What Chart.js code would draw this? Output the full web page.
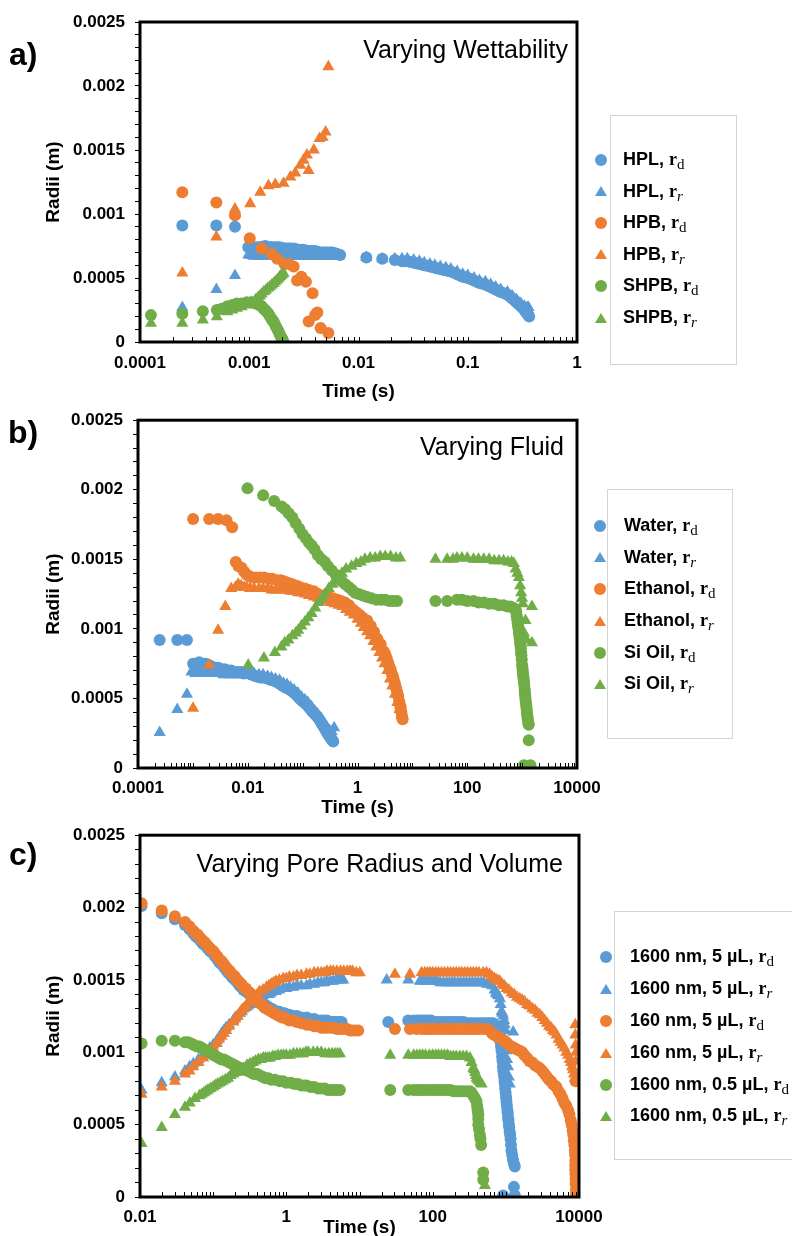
<!DOCTYPE html>
<html>
<head>
<meta charset="utf-8">
<title>Radii vs time</title>
<script src="https://cdn.jsdelivr.net/npm/chart.js@4.4.1/dist/chart.umd.min.js"></script>
<style>
  html, body { margin: 0; padding: 0; background: #fff; }
  body { position: relative; width: 792px; height: 1236px; overflow: hidden; font-family: 'Liberation Sans', Arial, sans-serif; color: #000; }
  canvas { position: absolute; left: 0; }
  .tag { position: absolute; font-size: 32px; font-weight: bold; line-height: 1; }
  .ttl { position: absolute; font-size: 25px; line-height: 1; white-space: nowrap; }
  .box { position: absolute; border: 1px solid #d4d4d4; box-sizing: border-box; }
  .item { position: absolute; font-size: 18px; font-weight: bold; line-height: 22px; white-space: nowrap; }
  .rr { font-family: 'Liberation Serif', 'Times New Roman', serif; font-weight: bold; }
  .rr sub { font-size: 15px; font-weight: normal; vertical-align: -4px; line-height: 0; }
  .dot { position: absolute; width: 12px; height: 12px; border-radius: 50%; }
  .tri { position: absolute; width: 0; height: 0; border-left: 6px solid transparent; border-right: 6px solid transparent; }
</style>
</head>
<body>
<canvas id="chartA" width="640" height="410" style="top:0px"></canvas>
<canvas id="chartB" width="640" height="420" style="top:400px"></canvas>
<canvas id="chartC" width="640" height="430" style="top:815px"></canvas>

<div class="tag" style="left:9px;top:38px">a)</div>
<div class="tag" style="left:8px;top:416px">b)</div>
<div class="tag" style="left:9px;top:838px">c)</div>

<div class="ttl" style="right:224px;top:37px">Varying Wettability</div>
<div class="ttl" style="right:228px;top:434px">Varying Fluid</div>
<div class="ttl" style="right:229px;top:851px">Varying Pore Radius and Volume</div>

<div id="legends"></div>

<script>
const BLUE = '#5B9BD5';
const ORANGE = '#ED7D31';
const GREEN = '#70AD47';
const FONT = "'Liberation Sans', Arial, sans-serif";

// y axis (same on all three panels)
const Y_STEP = 0.0001;
const yLabels = ['0', '0.0005', '0.001', '0.0015', '0.002', '0.0025'];

// x tick labels
const xLabelsA = ['0.0001', '0.001', '0.01', '0.1', '1'];
const xLabelsB = ['0.0001', '0.01', '1', '100', '10000'];
const xLabelsC = ['0.01', '1', '100', '10000'];

// ---------- a) Varying Wettability : [time (s), radius (m)] ----------
const hplRd = [
  [2.44e-4,0.00091],[5.0e-4,0.00091],[7.4e-4,0.0009],
  [0.00098,0.00074],[0.00104,0.00074],[0.0011,0.00074],[0.00117,0.00074],[0.00125,0.00074],[0.00132,0.000745],
  [0.0014,0.00075],[0.00147,0.000745],[0.00155,0.00074],[0.00162,0.00074],[0.0017,0.00074],[0.0018,0.00074],
  [0.0019,0.00074],[0.002,0.000735],[0.0021,0.00073],[0.0022,0.00073],[0.0023,0.00073],[0.0024,0.00073],
  [0.00255,0.00073],[0.0027,0.000725],[0.0028,0.00072],[0.003,0.00072],[0.0031,0.00072],[0.0033,0.000715],
  [0.0034,0.00071],[0.0036,0.00071],[0.0037,0.00071],[0.0039,0.00071],[0.004,0.00071],[0.0042,0.000705],
  [0.0044,0.0007],[0.0046,0.0007],[0.0048,0.0007],[0.005,0.0007],[0.0052,0.0007],[0.0055,0.0007],[0.0057,0.0007],
  [0.006,0.000695],[0.0062,0.00069],[0.0065,0.000685],[0.0068,0.00068],
  [0.0118,0.00066],[0.0165,0.00065],[0.0215,0.00064],
  [0.025,0.00063],[0.0265,0.00063],[0.028,0.00063],[0.03,0.000625],[0.032,0.00062],[0.034,0.000615],[0.036,0.00061],
  [0.038,0.000605],[0.04,0.0006],[0.0425,0.000595],[0.045,0.00059],[0.0475,0.000585],[0.05,0.00058],[0.053,0.000575],
  [0.056,0.00057],[0.0595,0.000565],[0.063,0.00056],[0.0665,0.000555],[0.07,0.00055],[0.075,0.00054],[0.08,0.00053],
  [0.085,0.00052],[0.09,0.00051],[0.095,0.000505],[0.1,0.0005],[0.107,0.00049],[0.114,0.00048],[0.121,0.00047],
  [0.128,0.00046],[0.136,0.000455],[0.145,0.00045],[0.153,0.00044],[0.162,0.00043],[0.171,0.00042],[0.18,0.00041],
  [0.19,0.0004],[0.2,0.00039],[0.215,0.00038],[0.231,0.00037],[0.243,0.000355],[0.255,0.00034],[0.268,0.000325],
  [0.28,0.00031],[0.293,0.000295],[0.306,0.00028],[0.318,0.000265],[0.33,0.00025],[0.34,0.000235],[0.35,0.00022],
  [0.358,0.00021],[0.365,0.0002]
];
const hplRr = [
  [2.44e-4,0.00027],[5.0e-4,0.00041],[7.4e-4,0.00052],
  [0.00098,0.00068],[0.00104,0.000675],[0.0011,0.00067],[0.00118,0.00067],[0.00125,0.00067],[0.00133,0.00067],
  [0.0014,0.00067],[0.0015,0.00067],[0.0016,0.00067],[0.0017,0.00067],[0.0018,0.00067],[0.0019,0.00067],
  [0.002,0.00067],[0.00215,0.00067],[0.0023,0.00067],[0.00245,0.00067],[0.0026,0.00067],[0.0028,0.00067],
  [0.003,0.00067],[0.0032,0.00067],[0.0034,0.00067],[0.0036,0.00067],[0.0038,0.00067],[0.004,0.00067],
  [0.0043,0.00067],[0.0045,0.00067],[0.0048,0.00067],[0.0051,0.00067],[0.0054,0.00067],[0.0057,0.00067],
  [0.006,0.00067],[0.0063,0.00067],[0.0066,0.00067],
  [0.0118,0.00066],[0.0165,0.00065],[0.0215,0.00065],
  [0.025,0.00065],[0.028,0.00065],[0.032,0.00064],[0.036,0.00063],[0.04,0.00062],[0.045,0.00061],[0.05,0.0006],
  [0.056,0.00059],[0.063,0.00058],[0.07,0.00057],[0.08,0.00055],[0.09,0.00053],[0.1,0.00052],[0.114,0.0005],
  [0.128,0.00048],[0.145,0.00047],[0.162,0.00045],[0.18,0.00043],[0.2,0.00041],[0.231,0.00039],[0.255,0.00036],
  [0.28,0.00033],[0.306,0.0003],[0.33,0.00028],[0.35,0.00027],[0.36,0.00027]
];
const hpbRd = [
  [2.44e-4,0.00117],[5.0e-4,0.00109],[7.4e-4,0.00099],[0.00101,0.00081],[0.0013,0.00073],[0.0016,0.00069],
  [0.0018,0.00065],[0.0021,0.00061],[0.0023,0.00061],[0.00255,0.00059],[0.00274,0.00048],[0.003,0.00051],
  [0.0033,0.00047],[0.0038,0.00038],[0.0035,0.00016],[0.004,0.00021],[0.0042,0.00023],[0.0045,0.00011],
  [0.0053,0.00007]
];
const hpbRr = [
  [2.44e-4,0.00054],[5.0e-4,0.00082],[7.4e-4,0.001],[7.4e-4,0.00104],[0.00102,0.00108],[0.00126,0.00117],
  [0.0015,0.00122],[0.00173,0.00123],[0.00206,0.00124],[0.00238,0.00129],[0.00264,0.00132],[0.00293,0.00138],
  [0.00314,0.00142],[0.00349,0.00134],[0.00337,0.00146],[0.0039,0.0015],[0.0044,0.00159],[0.0047,0.0016],
  [0.005,0.00164],[0.0053,0.00215]
];
const shpbRd = [
  [1.26e-4,0.00021],[2.44e-4,0.00022],[3.76e-4,0.00024],[5.05e-4,0.00025],[5.6e-4,0.00026],[6.3e-4,0.00028],
  [7.0e-4,0.00029],[7.7e-4,0.0003],[8.5e-4,0.0003],[9.5e-4,0.00031],[0.00105,0.00031],[0.00114,0.0003],
  [0.00122,0.00029],[0.00126,0.000285],[0.0013,0.00028],[0.00135,0.00026],[0.0014,0.00025],[0.00145,0.000235],
  [0.0015,0.00022],[0.00155,0.0002],[0.0016,0.00018],[0.00163,0.00017],[0.00167,0.00016],[0.00171,0.00014],
  [0.00176,0.00012],[0.00181,0.0001],[0.00186,0.00008],[0.0019,0.00006],[0.00195,0.00004],[0.00199,0.00003],
  [0.00204,0.00001]
];
const shpbRr = [
  [1.26e-4,0.000146],[2.44e-4,0.000146],[3.76e-4,0.000172],[5.05e-4,0.000198],[6.3e-4,0.000237],[7.0e-4,0.00025],
  [7.7e-4,0.000263],[8.5e-4,0.000275],[9.5e-4,0.000289],[0.00105,0.00031],[0.00114,0.000328],[0.0012,0.000345],
  [0.00125,0.00036],[0.0013,0.000375],[0.00136,0.000393],[0.00142,0.000405],[0.00148,0.00042],[0.00155,0.000432],
  [0.00161,0.000445],[0.00167,0.000458],[0.00173,0.00047],[0.0018,0.000485],[0.00186,0.000498],[0.00191,0.00051],
  [0.00196,0.00052],[0.00201,0.00053],[0.00206,0.000537]
];

// ---------- b) Varying Fluid ----------
const waterRd = [
  [2.48e-4,0.00092],[5.2e-4,0.00092],[7.8e-4,0.00092],
  [0.00101,0.00075],[0.00115,0.00075],[0.0013,0.00076],[0.0015,0.00075],[0.0017,0.00075],[0.00195,0.00074],
  [0.0022,0.00073],[0.0025,0.00072],[0.0029,0.00072],[0.0033,0.00071],[0.0038,0.00071],[0.0044,0.0007],
  [0.005,0.0007],[0.0058,0.00069],[0.0066,0.00069],[0.0076,0.00069],[0.0085,0.00068],
  [0.0105,0.00068],[0.0113,0.000675],[0.012,0.00067],[0.013,0.000665],[0.014,0.00066],[0.0155,0.000655],
  [0.017,0.00065],[0.0185,0.00065],[0.02,0.00065],[0.022,0.000645],[0.024,0.00064],[0.026,0.000635],[0.028,0.00063],
  [0.031,0.000625],[0.034,0.00062],[0.037,0.00061],[0.04,0.0006],[0.044,0.00059],[0.048,0.00058],[0.051,0.000575],
  [0.055,0.00057],[0.06,0.00056],[0.065,0.00055],[0.07,0.00054],[0.075,0.00053],[0.081,0.000515],[0.088,0.0005],
  [0.094,0.00049],[0.1,0.00048],[0.107,0.00047],[0.115,0.00046],[0.125,0.000445],[0.135,0.00043],[0.145,0.000415],
  [0.155,0.0004],[0.165,0.00039],[0.175,0.00038],[0.184,0.00037],[0.193,0.00036],[0.204,0.000345],[0.215,0.00033],
  [0.227,0.000315],[0.24,0.0003],[0.252,0.000285],[0.265,0.00027],[0.279,0.000255],[0.293,0.00024],[0.306,0.00023],
  [0.32,0.00022],[0.332,0.00021],[0.345,0.0002],[0.361,0.00019]
];
const waterRr = [
  [2.48e-4,0.000255],[5.2e-4,0.00042],[7.8e-4,0.00053],
  [0.00094,0.00069],[0.0011,0.00068],[0.0013,0.00068],[0.0015,0.00068],[0.0018,0.00068],[0.0021,0.00068],
  [0.0025,0.00068],[0.003,0.00068],[0.0036,0.00067],[0.0043,0.00067],[0.005,0.00067],[0.006,0.00067],
  [0.007,0.00067],[0.0082,0.00067],
  [0.0105,0.00069],[0.013,0.00068],[0.016,0.00067],[0.019,0.00067],[0.023,0.00066],[0.027,0.00065],
  [0.032,0.00064],[0.038,0.00063],[0.045,0.00061],[0.052,0.0006],[0.06,0.00058],[0.07,0.00056],[0.082,0.00054],
  [0.095,0.00051],[0.11,0.00049],[0.125,0.00047],[0.145,0.00044],[0.165,0.00041],[0.185,0.00039],[0.205,0.00036],
  [0.23,0.00034],[0.255,0.00031],[0.28,0.00029],[0.31,0.00027],[0.34,0.00026],[0.375,0.00029]
];
const ethanolRd = [
  [0.00101,0.00179],[0.00198,0.00179],[0.00288,0.00179],[0.0041,0.00178],[0.0052,0.00173],
  [0.00605,0.00148],[0.0068,0.00145],[0.0077,0.00144],[0.0086,0.00141],[0.0095,0.00139],[0.0105,0.00138],
  [0.012,0.00137],[0.014,0.00137],[0.017,0.00137],[0.02,0.00137],[0.024,0.00136],[0.028,0.00136],[0.034,0.00135],
  [0.04,0.00135],[0.047,0.00134],[0.055,0.00133],[0.065,0.00132],[0.078,0.00131],[0.09,0.0013],[0.11,0.00129],
  [0.13,0.00128],[0.16,0.00127],[0.19,0.00125],[0.22,0.00124],[0.26,0.00124],[0.3,0.00123],[0.36,0.00122],
  [0.43,0.00121],[0.5,0.0012],[0.59,0.00119],[0.7,0.00117],[0.82,0.00114],[0.95,0.00112],[1.1,0.0011],
  [1.25,0.00108],[1.5,0.00106],[1.75,0.00102],[2.0,0.00098],[2.3,0.00093],[2.65,0.00089],[3.0,0.00084],
  [3.2,0.00082],[3.4,0.00079],[3.6,0.00076],[3.8,0.00073],[4.0,0.00071],[4.2,0.00068],[4.4,0.00066],
  [4.55,0.00064],[4.8,0.00061],[5.0,0.00058],[5.25,0.00055],[5.5,0.00052],[5.75,0.00048],[6.0,0.00045],
  [6.15,0.00043],[6.3,0.0004],[6.5,0.00037],[6.65,0.00035]
];
const ethanolRr = [
  [0.00101,0.00043],[0.00198,0.00074],[0.00288,0.00099],[0.0039,0.00116],[0.005,0.00129],[0.006,0.0013],
  [0.0067,0.00132],[0.0076,0.00131],[0.0086,0.0013],[0.0095,0.0013],[0.011,0.00129],[0.013,0.00129],
  [0.016,0.00129],[0.019,0.00129],[0.023,0.00129],[0.027,0.00128],[0.032,0.00128],[0.038,0.00128],
  [0.045,0.00128],[0.052,0.00128],[0.06,0.00127],[0.07,0.00127],[0.082,0.00126],[0.095,0.00126],[0.11,0.00125],
  [0.13,0.00124],[0.16,0.00123],[0.19,0.00122],[0.23,0.00121],[0.27,0.0012],[0.32,0.00119],[0.38,0.00118],
  [0.45,0.00117],[0.53,0.00116],[0.62,0.00114],[0.72,0.00112],[0.85,0.0011],[1.0,0.00107],[1.15,0.00104],
  [1.3,0.00101],[1.5,0.00098],[1.7,0.00095],[1.95,0.00091],[2.2,0.00087],[2.5,0.00083],[2.8,0.00079],
  [3.1,0.00075],[3.5,0.0007],[3.9,0.00064],[4.3,0.00059],[4.8,0.00053],[5.3,0.00047],[5.8,0.00042],[6.3,0.00038]
];
const siOilRd = [
  [0.0099,0.00201],[0.0191,0.00196],[0.0303,0.00192],[0.0413,0.00188],[0.048,0.00186],[0.056,0.00183],
  [0.065,0.0018],[0.075,0.00176],[0.087,0.00172],[0.1,0.00168],[0.115,0.00165],[0.13,0.00162],[0.146,0.0016],
  [0.165,0.00157],[0.19,0.00153],[0.22,0.0015],[0.255,0.00148],[0.29,0.00145],[0.34,0.00142],[0.4,0.00139],
  [0.45,0.00137],[0.52,0.00134],[0.6,0.00132],[0.7,0.0013],[0.8,0.00128],[0.9,0.00126],[1.05,0.00125],
  [1.25,0.00124],[1.5,0.00123],[1.8,0.00122],[2.2,0.00121],[2.7,0.00121],[3.2,0.00121],[3.8,0.0012],
  [4.5,0.0012],[5.25,0.0012],
  [26.3,0.0012],[43,0.0012],[65,0.00121],[80,0.00121],[100,0.0012],[130,0.0012],[160,0.00119],[200,0.00119],
  [250,0.00118],[310,0.00118],[380,0.00117],[460,0.00117],[540,0.00116],[614,0.00116],[700,0.00115],
  [760,0.00114],[780,0.00112],[800,0.00109],[815,0.00107],[830,0.00104],[845,0.00102],[860,0.001],[875,0.00097],
  [890,0.00095],[905,0.00093],[920,0.0009],[932,0.00088],[945,0.00086],[958,0.00083],[970,0.00081],[985,0.00078],
  [1000,0.00074],[1012,0.00072],[1025,0.0007],[1037,0.00068],[1050,0.00066],[1065,0.00064],[1080,0.00062],
  [1095,0.0006],[1110,0.00057],[1120,0.00055],[1130,0.00053],[1140,0.00052],[1150,0.0005],[1165,0.00048],
  [1180,0.00046],[1195,0.00044],[1210,0.00042],[1225,0.0004],[1240,0.00038],[1260,0.00036],[1280,0.00034],
  [1300,0.00032],[1320,0.00031],[1320,0.0002],[1080,0.00002],[1420,0.00002]
];
const siOilRr = [
  [0.0102,0.00074],[0.0197,0.00079],[0.0312,0.00083],[0.041,0.00087],[0.047,0.0009],[0.055,0.00092],
  [0.065,0.00095],[0.075,0.00097],[0.083,0.00099],[0.095,0.00102],[0.11,0.00105],[0.127,0.00108],[0.146,0.00111],
  [0.17,0.00115],[0.195,0.00119],[0.225,0.00122],[0.255,0.00125],[0.3,0.00129],[0.35,0.00132],[0.4,0.00135],
  [0.447,0.00137],[0.52,0.0014],[0.62,0.00143],[0.78,0.00145],[0.95,0.00147],[1.15,0.00148],[1.37,0.0015],
  [1.7,0.00151],[2.1,0.00151],[2.6,0.00152],[3.2,0.00152],[4.0,0.00152],[5.0,0.00151],[6.0,0.00151],
  [26.3,0.0015],[43,0.0015],[55,0.0015],[65,0.00151],[80,0.00151],[100,0.00151],[130,0.0015],[160,0.0015],
  [200,0.0015],[250,0.0015],[310,0.00149],[380,0.00149],[460,0.00149],[550,0.00148],[640,0.00148],
  [708,0.00147],[760,0.00143],[820,0.0014],[873,0.00137],[920,0.00131],[960,0.00126],[1000,0.00122],
  [1030,0.00118],[1510,0.00116],[1150,0.00106],[1080,0.00097],[1200,0.00092],[1510,0.0009]
];

// ---------- c) Varying Pore Radius and Volume ----------
const nm1600v5Rd = [
  [0.0105,0.00201],[0.0198,0.00196],[0.03,0.00192],[0.0412,0.00188],[0.0475,0.00185],[0.0535,0.00182],
  [0.058,0.0018],[0.062,0.00179],[0.067,0.00177],[0.072,0.00175],[0.077,0.00174],[0.083,0.00172],[0.09,0.0017],
  [0.1,0.00168],[0.107,0.00166],[0.115,0.00164],[0.122,0.00162],[0.13,0.00161],[0.14,0.00159],[0.15,0.00157],
  [0.16,0.00155],[0.17,0.00154],[0.18,0.00152],[0.19,0.00151],[0.2,0.0015],[0.215,0.00148],[0.23,0.00146],
  [0.245,0.00145],[0.26,0.00143],[0.28,0.00142],[0.3,0.00141],[0.318,0.0014],[0.34,0.00138],[0.37,0.00137],
  [0.4,0.00136],[0.43,0.00135],[0.46,0.00134],[0.5,0.00133],[0.54,0.00132],[0.58,0.00131],[0.63,0.0013],
  [0.68,0.00129],[0.74,0.00128],[0.8,0.00128],[0.87,0.00127],[0.95,0.00127],[1.02,0.00126],[1.1,0.00126],
  [1.25,0.00125],[1.4,0.00125],[1.6,0.00124],[1.89,0.00124],[2.1,0.00123],[2.4,0.00123],[2.7,0.00122],
  [3.0,0.00122],[3.3,0.00122],[3.6,0.00122],[4.0,0.00121],[4.37,0.00121],[4.7,0.00121],[5.0,0.00121],
  [5.4,0.00121],[5.7,0.00121],
  [24.7,0.00121],[46.4,0.00122],[55,0.00122],[61,0.00122],[66.8,0.00122],[73,0.00122],[80,0.00122],[87,0.00122],
  [95,0.00122],[105,0.00121],[115,0.00121],[127,0.00121],[140,0.00121],[155,0.00121],[170,0.00121],[185,0.00121],
  [200,0.00121],[220,0.00121],[240,0.00121],[265,0.00121],[290,0.0012],[320,0.0012],[350,0.0012],[385,0.0012],
  [420,0.0012],[460,0.0012],[500,0.0012],[540,0.0012],[580,0.0012],[625,0.0012],[671,0.0012],[715,0.00119],
  [760,0.00117],[795,0.00116],[828,0.00114],[840,0.00111],[850,0.00107],[862,0.00104],[873,0.00101],[887,0.00097],
  [900,0.00094],[912,0.0009],[925,0.00087],[938,0.00085],[950,0.00083],[960,0.0008],[968,0.00078],[980,0.00075],
  [995,0.00072],[1008,0.00069],[1020,0.00066],[1035,0.00063],[1050,0.0006],[1062,0.00058],[1073,0.00055],
  [1087,0.00053],[1100,0.0005],[1115,0.00048],[1130,0.00045],[1145,0.00043],[1160,0.0004],[1177,0.00036],
  [1194,0.00032],[1220,0.00029],[1250,0.00026],[1290,0.00023],[1326,0.00021],[1290,0.00007],[920,0.00001],
  [1326,0.00001]
];
const nm1600v5Rr = [
  [0.0105,0.00074],[0.0198,0.00079],[0.03,0.00083],[0.0412,0.00087],[0.0475,0.0009],[0.0535,0.00092],
  [0.063,0.00095],[0.0733,0.00098],[0.081,0.001],[0.09,0.00103],[0.1,0.00105],[0.112,0.00108],[0.12,0.0011],
  [0.13,0.00113],[0.14,0.00115],[0.15,0.00117],[0.165,0.00119],[0.188,0.00122],[0.2,0.00124],[0.215,0.00125],
  [0.23,0.00127],[0.245,0.00128],[0.26,0.0013],[0.28,0.00131],[0.3,0.00132],[0.318,0.00133],[0.34,0.00135],
  [0.37,0.00136],[0.4,0.00137],[0.43,0.00138],[0.48,0.00139],[0.537,0.0014],[0.58,0.0014],[0.62,0.00141],
  [0.67,0.00142],[0.72,0.00142],[0.8,0.00143],[0.907,0.00144],[1.0,0.00144],[1.1,0.00145],[1.25,0.00145],
  [1.4,0.00146],[1.6,0.00146],[1.89,0.00146],[2.1,0.00147],[2.4,0.00147],[2.7,0.00148],[3.0,0.00148],
  [3.3,0.00148],[3.6,0.00149],[4.0,0.00149],[4.37,0.00149],[4.8,0.0015],[5.2,0.0015],[5.6,0.0015],[6.0,0.0015],
  [23.5,0.0015],[46.4,0.0015],[66.8,0.00149],[73,0.00149],[80,0.00149],[87,0.00149],[95,0.00149],[105,0.00149],
  [115,0.00149],[127,0.00148],[140,0.00148],[155,0.00148],[170,0.00148],[185,0.00148],[200,0.00148],
  [220,0.00148],[240,0.00148],[265,0.00148],[290,0.00148],[320,0.00148],[350,0.00148],[385,0.00148],
  [420,0.00148],[460,0.00148],[500,0.00148],[550,0.00147],[605,0.00147],[650,0.00146],[700,0.00143],
  [730,0.00141],[760,0.0014],[795,0.00139],[828,0.00137],[850,0.00133],[873,0.00128],[895,0.00127],[920,0.00125],
  [945,0.00122],[968,0.00119],[990,0.00115],[1020,0.00101],[1259,0.00114],[1073,0.0009],[1040,0.00095],
  [1130,0.00078],[1000,0.00085],[1100,0.00083]
];
const nm160v5Rd = [
  [0.0105,0.00203],[0.0198,0.00198],[0.03,0.00194],[0.0412,0.0019],[0.0475,0.00187],[0.0535,0.00184],
  [0.058,0.00182],[0.062,0.00181],[0.067,0.00179],[0.072,0.00177],[0.077,0.00176],[0.083,0.00174],[0.09,0.00172],
  [0.1,0.0017],[0.107,0.00168],[0.115,0.00166],[0.122,0.00164],[0.13,0.00163],[0.14,0.00161],[0.15,0.00159],
  [0.16,0.00157],[0.17,0.00156],[0.18,0.00154],[0.19,0.00153],[0.2,0.00152],[0.215,0.0015],[0.23,0.00148],
  [0.245,0.00147],[0.26,0.00145],[0.28,0.00144],[0.3,0.00142],[0.318,0.00141],[0.34,0.00139],[0.37,0.00137],
  [0.4,0.00136],[0.43,0.00134],[0.46,0.00133],[0.5,0.00131],[0.54,0.0013],[0.58,0.00129],[0.63,0.00128],
  [0.68,0.00127],[0.74,0.00126],[0.8,0.00125],[0.87,0.00124],[0.95,0.00124],[1.02,0.00123],[1.1,0.00122],
  [1.25,0.00122],[1.4,0.00121],[1.6,0.0012],[1.89,0.00119],[2.1,0.00119],[2.4,0.00118],[2.7,0.00118],
  [3.0,0.00117],[3.3,0.00117],[3.6,0.00117],[4.0,0.00117],[4.37,0.00117],[4.9,0.00116],[5.5,0.00116],
  [6.1,0.00116],[6.8,0.00116],[7.4,0.00115],[8.0,0.00115],[8.8,0.00115],[9.6,0.00115],
  [30.5,0.00116],[48.9,0.00116],[60,0.00116],[70.5,0.00116],[78,0.00116],[85,0.00116],[92,0.00116],[100,0.00116],
  [110,0.00116],[120,0.00116],[132,0.00116],[145,0.00116],[160,0.00116],[175,0.00116],[192,0.00116],[210,0.00116],
  [230,0.00116],[250,0.00116],[275,0.00116],[300,0.00116],[330,0.00116],[360,0.00116],[395,0.00116],[430,0.00116],
  [490,0.00116],[545,0.00116],[600,0.00115],[650,0.00113],[700,0.00112],[750,0.00111],[790,0.0011],[828,0.0011],
  [890,0.00109],[950,0.00108],[1020,0.00107],[1100,0.00105],[1200,0.00104],[1300,0.00103],[1420,0.00102],
  [1552,0.00101],[1680,0.001],[1800,0.00098],[1950,0.00096],[2100,0.00094],[2300,0.00093],[2500,0.00091],
  [2700,0.0009],[2916,0.00089],[3150,0.00087],[3400,0.00085],[3650,0.00083],[3900,0.00081],[4150,0.0008],
  [4400,0.00078],[4650,0.00077],[4930,0.00076],[5250,0.00073],[5600,0.00071],[5950,0.00068],[6300,0.00065],
  [6700,0.00063],[7110,0.0006],[7400,0.00057],[7700,0.00053],[7950,0.0005],[8200,0.00046],[8350,0.00043],
  [8500,0.00039],[8650,0.00036],[8770,0.00032],[8850,0.00029],[8900,0.00025],[8900,0.00022],[8900,0.00019],
  [8950,0.00016],[9000,0.00013],[9000,0.00009],[9100,0.00005],[9100,0.00002],[9000,0.0008]
];
const nm160v5Rr = [
  [0.0105,0.00071],[0.0198,0.00076],[0.03,0.0008],[0.0412,0.00085],[0.0475,0.00087],[0.0535,0.0009],
  [0.063,0.00093],[0.0733,0.00096],[0.081,0.00099],[0.09,0.00101],[0.1,0.00103],[0.112,0.00106],[0.12,0.00109],
  [0.13,0.00111],[0.14,0.00113],[0.15,0.00115],[0.165,0.00118],[0.188,0.00121],[0.2,0.00123],[0.215,0.00125],
  [0.23,0.00127],[0.245,0.00129],[0.26,0.0013],[0.28,0.00132],[0.3,0.00134],[0.318,0.00135],[0.34,0.00137],
  [0.37,0.00139],[0.4,0.0014],[0.43,0.00142],[0.48,0.00143],[0.537,0.00145],[0.58,0.00146],[0.62,0.00147],
  [0.67,0.00148],[0.72,0.00149],[0.8,0.0015],[0.907,0.00151],[1.0,0.00151],[1.1,0.00152],[1.25,0.00152],
  [1.4,0.00153],[1.6,0.00153],[1.89,0.00154],[2.1,0.00154],[2.4,0.00155],[2.7,0.00155],[3.0,0.00155],
  [3.3,0.00155],[3.6,0.00156],[4.0,0.00156],[4.37,0.00156],[4.9,0.00156],[5.5,0.00156],[6.1,0.00156],
  [6.8,0.00156],[7.4,0.00156],[8.0,0.00156],[9.0,0.00155],[10.1,0.00155],
  [30.5,0.00154],[48.9,0.00154],[70.5,0.00155],[78,0.00155],[85,0.00155],[92,0.00155],[100,0.00155],
  [110,0.00155],[120,0.00155],[132,0.00155],[145,0.00155],[160,0.00155],[175,0.00155],[192,0.00155],
  [210,0.00155],[230,0.00155],[250,0.00155],[275,0.00155],[300,0.00155],[330,0.00155],[360,0.00155],
  [395,0.00155],[430,0.00155],[490,0.00155],[545,0.00155],[600,0.00154],[650,0.00152],[700,0.00151],
  [750,0.0015],[790,0.00149],[828,0.00149],[890,0.00147],[950,0.00146],[1020,0.00144],[1100,0.00143],
  [1200,0.00141],[1300,0.0014],[1420,0.00138],[1552,0.00137],[1680,0.00136],[1800,0.00135],[1950,0.00133],
  [2100,0.00132],[2300,0.0013],[2500,0.00129],[2700,0.00127],[2916,0.00126],[3150,0.00124],[3400,0.00122],
  [3650,0.0012],[3900,0.00118],[4150,0.00117],[4400,0.00115],[4650,0.00114],[4930,0.00112],[5250,0.00109],
  [5600,0.00107],[5950,0.00105],[6300,0.00103],[6700,0.001],[7110,0.00098],[7450,0.00095],[7800,0.00093],
  [8050,0.0009],[8300,0.00088],[8550,0.00085],[8770,0.00082],[8900,0.00119],[8900,0.00112],[9000,0.00105],
  [9100,0.001],[9000,0.00094]
];
const nm1600v05Rd = [
  [0.0105,0.00106],[0.0198,0.00108],[0.03,0.00108],[0.0412,0.00107],[0.0455,0.00107],[0.05,0.00106],
  [0.055,0.00105],[0.06,0.00104],[0.065,0.00104],[0.07,0.00103],[0.0755,0.00102],[0.0815,0.00101],[0.088,0.001],
  [0.095,0.00099],[0.102,0.00098],[0.11,0.00097],[0.12,0.00096],[0.13,0.00095],[0.141,0.00095],[0.153,0.00094],
  [0.166,0.00093],[0.18,0.00092],[0.197,0.00091],[0.215,0.0009],[0.236,0.00089],[0.258,0.00088],[0.28,0.00088],
  [0.3,0.00087],[0.33,0.00086],[0.36,0.00085],[0.4,0.00085],[0.436,0.00084],[0.48,0.00083],[0.52,0.00082],
  [0.57,0.00082],[0.62,0.00081],[0.7,0.00081],[0.818,0.0008],[0.9,0.0008],[1.0,0.00079],[1.15,0.00079],
  [1.3,0.00078],[1.45,0.00078],[1.6,0.00077],[1.75,0.00077],[1.89,0.00077],[2.15,0.00076],[2.4,0.00076],
  [2.7,0.00075],[3.0,0.00075],[3.35,0.00075],[3.7,0.00074],[4.1,0.00074],[4.5,0.00074],[4.9,0.00074],[5.4,0.00074],
  [26.3,0.00074],[46.4,0.00074],[55,0.00074],[61,0.00074],[66.8,0.00074],[73,0.00074],[80,0.00074],[90,0.00074],
  [100,0.00074],[110,0.00074],[120,0.00074],[132,0.00074],[145,0.00074],[160,0.00074],[175,0.00074],
  [192,0.00073],[210,0.00073],[235,0.00073],[260,0.00073],[290,0.00073],[323,0.00073],[340,0.00072],[360,0.0007],
  [380,0.00068],[398,0.00066],[405,0.00063],[410,0.00061],[415,0.00059],[420,0.00057],[420,0.00054],[420,0.0005],
  [430,0.00047],[442,0.00043],[450,0.0004],[460,0.00036],[491,0.00017],[491,0.00012]
];
const nm1600v05Rr = [
  [0.0105,0.00037],[0.0198,0.00048],[0.03,0.00057],[0.0412,0.00062],[0.048,0.00065],[0.0564,0.00068],
  [0.065,0.0007],[0.07,0.00071],[0.075,0.00072],[0.08,0.00073],[0.085,0.00074],[0.092,0.00075],[0.1,0.00076],
  [0.107,0.00077],[0.115,0.00078],[0.125,0.00079],[0.135,0.0008],[0.147,0.00081],[0.16,0.00082],[0.173,0.00084],
  [0.188,0.00085],[0.204,0.00086],[0.22,0.00087],[0.24,0.00088],[0.26,0.00089],[0.29,0.00091],[0.318,0.00092],
  [0.35,0.00093],[0.38,0.00094],[0.415,0.00095],[0.45,0.00095],[0.485,0.00096],[0.52,0.00096],[0.56,0.00096],
  [0.597,0.00096],[0.65,0.00097],[0.7,0.00097],[0.77,0.00098],[0.85,0.00098],[0.92,0.00098],[1.0,0.00098],
  [1.12,0.00098],[1.25,0.00099],[1.4,0.00099],[1.55,0.00099],[1.7,0.00099],[1.85,0.001],[2.0,0.001],
  [2.33,0.001],[2.65,0.001],[3.0,0.001],[3.4,0.00099],[3.8,0.00099],[4.2,0.00099],[4.6,0.00099],[5.0,0.00099],
  [5.4,0.00099],
  [26.3,0.00098],[46.4,0.00098],[55,0.00098],[61,0.00098],[66.8,0.00098],[73,0.00098],[80,0.00098],[90,0.00098],
  [100,0.00098],[110,0.00098],[120,0.00098],[132,0.00098],[145,0.00098],[160,0.00098],[175,0.00097],
  [192,0.00097],[210,0.00097],[235,0.00097],[260,0.00097],[290,0.00097],[323,0.00096],[340,0.00093],
  [359,0.00089],[370,0.00088],[380,0.00086],[390,0.00084],[398,0.00082],[415,0.00081],[430,0.0008],[450,0.00079],
  [467,0.00078],[518,0.00008]
];

const seriesA = [
  { name: 'HPL', sub: 'd', data: hplRd, color: BLUE },
  { name: 'HPL', sub: 'r', data: hplRr, color: BLUE },
  { name: 'HPB', sub: 'd', data: hpbRd, color: ORANGE },
  { name: 'HPB', sub: 'r', data: hpbRr, color: ORANGE },
  { name: 'SHPB', sub: 'd', data: shpbRd, color: GREEN },
  { name: 'SHPB', sub: 'r', data: shpbRr, color: GREEN }
];
const seriesB = [
  { name: 'Water', sub: 'd', data: waterRd, color: BLUE },
  { name: 'Water', sub: 'r', data: waterRr, color: BLUE },
  { name: 'Ethanol', sub: 'd', data: ethanolRd, color: ORANGE },
  { name: 'Ethanol', sub: 'r', data: ethanolRr, color: ORANGE },
  { name: 'Si Oil', sub: 'd', data: siOilRd, color: GREEN },
  { name: 'Si Oil', sub: 'r', data: siOilRr, color: GREEN }
];
const seriesC = [
  { name: '1600 nm, 5 µL', sub: 'd', data: nm1600v5Rd, color: BLUE },
  { name: '1600 nm, 5 µL', sub: 'r', data: nm1600v5Rr, color: BLUE },
  { name: '160 nm, 5 µL', sub: 'd', data: nm160v5Rd, color: ORANGE },
  { name: '160 nm, 5 µL', sub: 'r', data: nm160v5Rr, color: ORANGE },
  { name: '1600 nm, 0.5 µL', sub: 'd', data: nm1600v05Rd, color: GREEN },
  { name: '1600 nm, 0.5 µL', sub: 'r', data: nm1600v05Rr, color: GREEN }
];

const tickFont = { family: FONT, size: 17, weight: 'bold' };
const titleFont = { family: FONT, size: 19, weight: 'bold' };

// log ticks 1..9 in every decade
function logTicks(min, max) {
  const out = [];
  const e0 = Math.round(Math.log10(min)), e1 = Math.round(Math.log10(max));
  for (let e = e0; e < e1; e++) {
    for (let d = 1; d <= 9; d++) out.push({ value: d * Math.pow(10, e) });
  }
  out.push({ value: max });
  return out;
}

function xLabel(v, labels) {
  const hit = labels.find(s => Math.abs(Math.log10(Number(s)) - Math.log10(v)) < 1e-6);
  return hit || '';
}

// plot frame + inward minor ticks on the x axis
const framePlugin = {
  id: 'frame',
  afterDraw(chart) {
    const { ctx, chartArea: a } = chart;
    const x = chart.scales.x;
    ctx.save();
    ctx.strokeStyle = '#000';
    ctx.lineWidth = 1;
    x.ticks.forEach(t => {
      const px = Math.round(x.getPixelForValue(t.value)) + 0.5;
      ctx.beginPath();
      ctx.moveTo(px, a.bottom);
      ctx.lineTo(px, a.bottom - 5);
      ctx.stroke();
    });
    ctx.lineWidth = 3;
    ctx.strokeRect(a.left, a.top, a.right - a.left, a.bottom - a.top);
    ctx.restore();
  }
};

function buildChart(id, series, ax) {
  const datasets = series.map((s, i) => ({
    label: s.name + ', r' + s.sub,
    data: s.data.map(p => ({ x: p[0], y: p[1] })),
    pointStyle: s.sub === 'd' ? 'circle' : 'triangle',
    pointRadius: s.sub === 'd' ? 6 : 7,
    pointHoverRadius: s.sub === 'd' ? 6 : 7,
    backgroundColor: s.color,
    borderColor: s.color,
    borderWidth: 0,
    showLine: false,
    order: series.length - i
  }));

  return new Chart(document.getElementById(id), {
    type: 'scatter',
    data: { datasets },
    options: {
      responsive: false,
      animation: false,
      events: [],
      layout: { padding: { left: 0, right: ax.padRight, top: ax.padTop, bottom: 0 } },
      plugins: { legend: { display: false }, tooltip: { enabled: false } },
      scales: {
        x: {
          type: 'logarithmic',
          min: ax.xMin,
          max: ax.xMax,
          afterBuildTicks: sc => { sc.ticks = logTicks(ax.xMin, ax.xMax); },
          afterFit: sc => { sc.height = ax.xHeight; },
          grid: { display: false, drawTicks: false },
          border: { display: false },
          ticks: {
            autoSkip: false, maxRotation: 0, padding: ax.xTickPad, color: '#000', font: tickFont,
            callback: v => xLabel(v, ax.xLabels)
          },
          title: { display: true, text: 'Time (s)', color: '#000', font: titleFont, padding: { top: 0, bottom: ax.xTitlePad } }
        },
        y: {
          type: 'linear',
          min: 0,
          max: 0.0025,
          afterFit: sc => { sc.width = ax.yWidth; },
          grid: { drawOnChartArea: false, drawTicks: true, tickLength: 5, color: '#000', lineWidth: 1 },
          border: { display: false },
          ticks: {
            stepSize: Y_STEP, autoSkip: false, padding: 10, color: '#000', font: tickFont,
            callback: v => {
              const k = Math.round(v / Y_STEP);
              return k % 5 === 0 ? yLabels[k / 5] : '';
            }
          },
          title: { display: true, text: 'Radii (m)', color: '#000', font: titleFont, padding: { top: 42, bottom: 0 } }
        }
      }
    },
    plugins: [framePlugin]
  });
}

buildChart('chartA', seriesA, {
  xMin: 1e-4, xMax: 1, xLabels: xLabelsA, yWidth: 140, xHeight: 68,
  padTop: 22, padRight: 63, xTickPad: 11, xTitlePad: 7
});
buildChart('chartB', seriesB, {
  xMin: 1e-4, xMax: 1e4, xLabels: xLabelsB, yWidth: 138, xHeight: 52,
  padTop: 12, padRight: 63, xTickPad: 10, xTitlePad: 1
});
buildChart('chartC', seriesC, {
  xMin: 1e-2, xMax: 1e4, xLabels: xLabelsC, yWidth: 140, xHeight: 48,
  padTop: 17, padRight: 61, xTickPad: 10, xTitlePad: 6
});

// legends (HTML, for the subscripts)
const legendBoxes = [
  { series: seriesA, box: [610, 115, 127, 250], mx: 601, tx: 623, rows: [160, 191.5, 223, 254.5, 286, 318] },
  { series: seriesB, box: [607, 489, 126, 250], mx: 600, tx: 624, rows: [526, 557.5, 589, 621, 653, 684] },
  { series: seriesC, box: [614, 911, 200, 249], mx: 606, tx: 630, rows: [957, 989, 1021, 1053, 1085, 1116] }
];

let html = '';
legendBoxes.forEach(L => {
  const [bx, by, bw, bh] = L.box;
  html += `<div class="box" style="left:${bx}px;top:${by}px;width:${bw}px;height:${bh}px"></div>`;
  L.series.forEach((s, i) => {
    const y = L.rows[i];
    if (s.sub === 'd') {
      html += `<div class="dot" style="left:${L.mx - 6}px;top:${y - 6}px;background:${s.color}"></div>`;
    } else {
      html += `<div class="tri" style="left:${L.mx - 6}px;top:${y - 5.5}px;border-bottom:10px solid ${s.color}"></div>`;
    }
    const sub = s.sub === 'd' ? 'd' : '<i>r</i>';
    html += `<div class="item" style="left:${L.tx}px;top:${y - 12}px">${s.name}, <span class="rr">r<sub>${sub}</sub></span></div>`;
  });
});
document.getElementById('legends').innerHTML = html;
</script>
</body>
</html>
